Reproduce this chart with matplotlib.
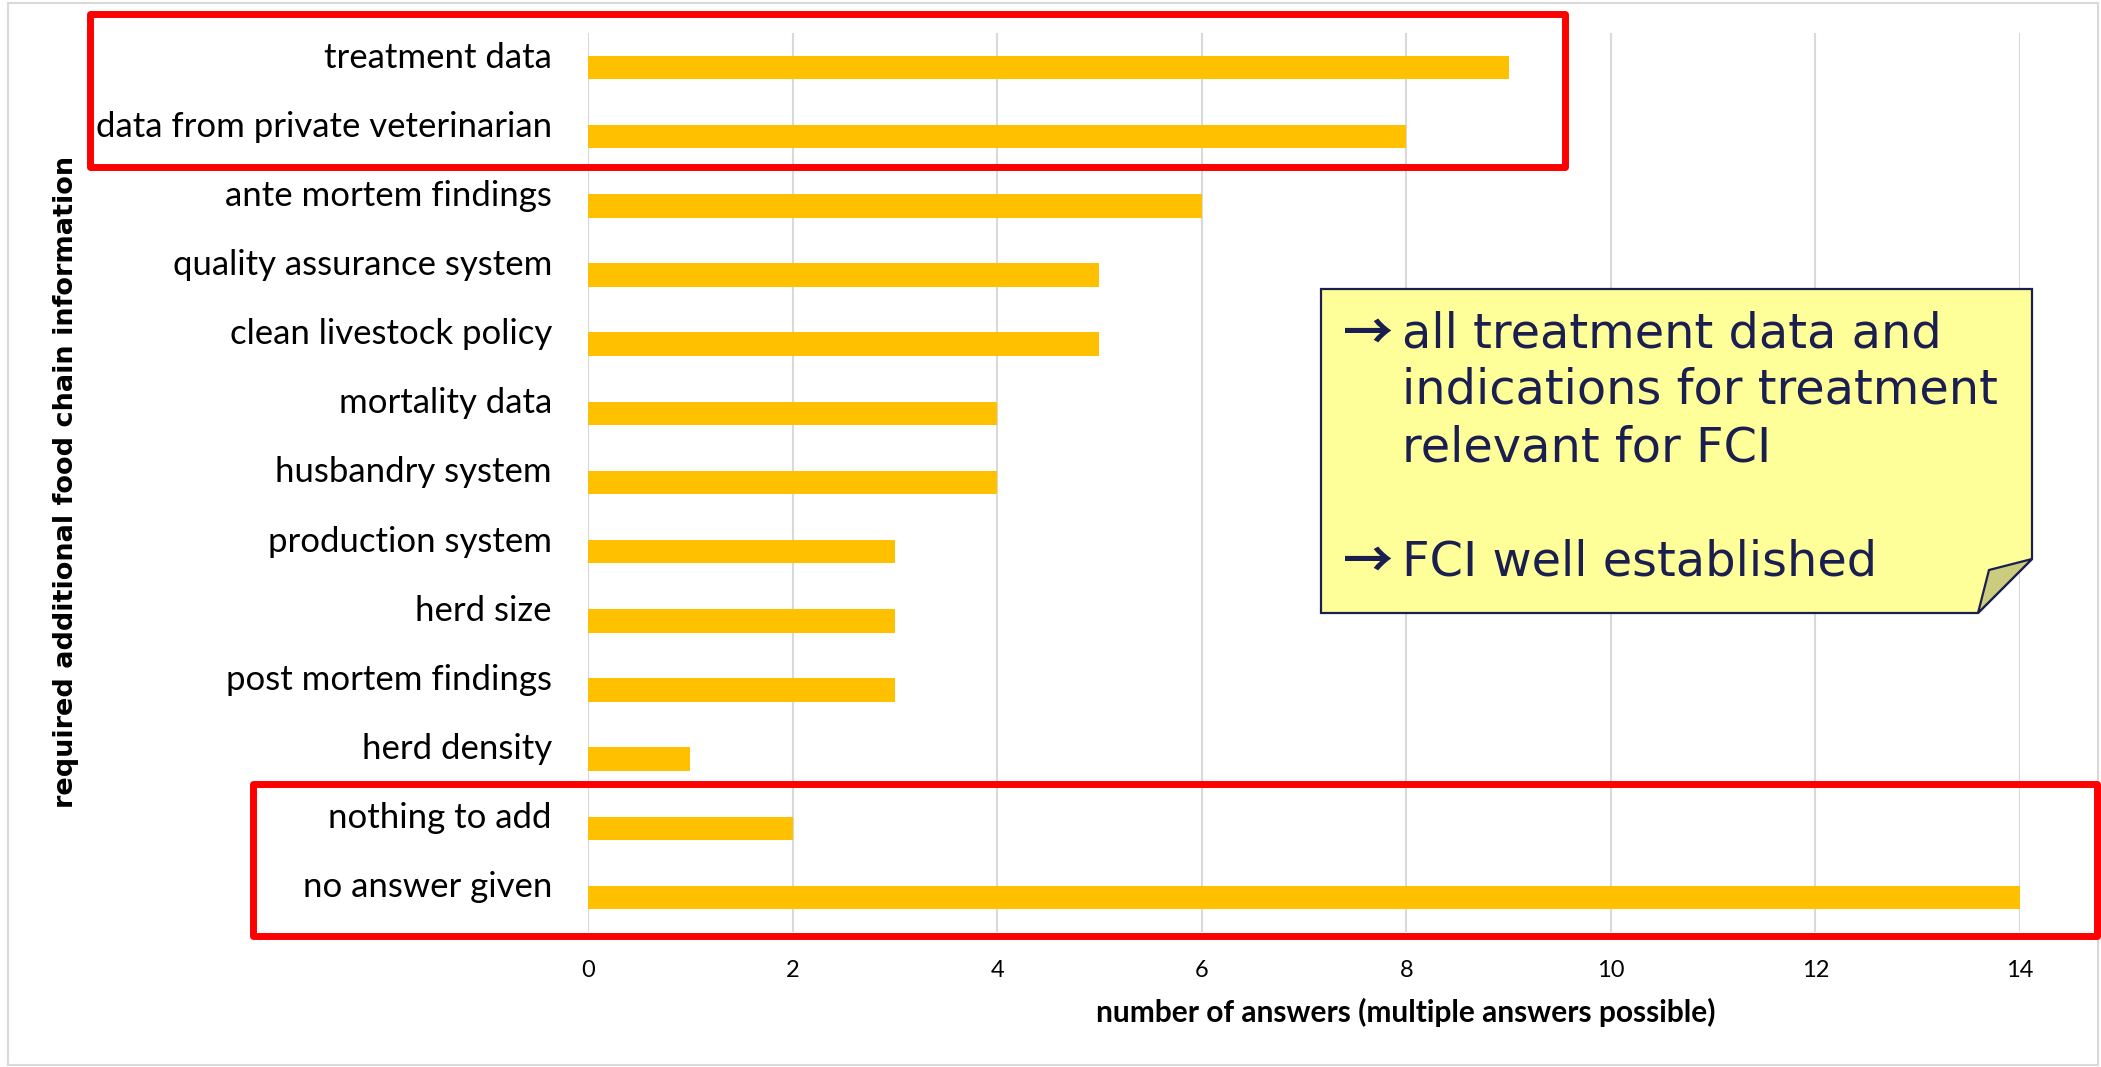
import matplotlib
matplotlib.use("Agg")
import matplotlib.pyplot as plt
from matplotlib.patches import Rectangle, Polygon
import numpy as np

categories = [
    "treatment data",
    "data from private veterinarian",
    "ante mortem findings",
    "quality assurance system",
    "clean livestock policy",
    "mortality data",
    "husbandry system",
    "production system",
    "herd size",
    "post mortem findings",
    "herd density",
    "nothing to add",
    "no answer given",
]
values = [9, 8, 6, 5, 5, 4, 4, 3, 3, 3, 1, 2, 14]
xticks = [0, 2, 4, 6, 8, 10, 12, 14]

note_lines = [
    ("\u2192", "all treatment data and"),
    ("", "indications for treatment"),
    ("", "relevant for FCI"),
    ("", ""),
    ("\u2192", "FCI well established"),
]

W, H = 2101, 1067
fig = plt.figure(figsize=(W / 100, H / 100), dpi=100)

def fx(px):
    return px / W

def fy(py):
    return 1 - py / H

# outer chart border
fig.patches.append(Rectangle((fx(8), fy(1065)), fx(2098) - fx(8), fy(3) - fy(1065),
                             transform=fig.transFigure, fill=False,
                             edgecolor="#D9D9D9", linewidth=1.5, zorder=0))

ax = fig.add_axes([fx(588), fy(932), fx(2020) - fx(588), fy(33) - fy(932)])
y = np.arange(len(categories))
ax.barh(y, values, height=0.34, color="#FFC000", zorder=3)
ax.set_ylim(len(categories) - 0.5, -0.5)
ax.set_xlim(0, 14)
ax.set_xticks(xticks)
ax.set_xticklabels([str(t) for t in xticks], fontsize=17, family="Lato")
ax.set_yticks(y)
ax.set_yticklabels(categories, fontsize=25, family="Lato", va="baseline")
ax.tick_params(axis="y", length=0, pad=26)
ax.tick_params(axis="x", length=0, pad=20)
ax.grid(axis="x", color="#D9D9D9", linewidth=1.5, zorder=0)
for s in ax.spines.values():
    s.set_visible(False)

fig.text(fx(1406), fy(1022), "number of answers (multiple answers possible)",
         ha="center", va="baseline", fontsize=21.5, fontweight="bold", family="Lato")
fig.text(fx(66), fy(482), "required additional food chain information",
         ha="center", va="center", rotation=90, fontsize=19.5, fontweight="bold",
         family="DejaVu Sans")

# red highlight boxes
for (l, t, r, b) in [(90, 14.5, 1564.5, 166.5), (253, 784, 2097, 936)]:
    fig.patches.append(Rectangle((fx(l), fy(b)), fx(r) - fx(l), fy(t) - fy(b),
                                 transform=fig.transFigure, fill=False,
                                 edgecolor="#FF0000", linewidth=5, joinstyle="round",
                                 zorder=10))

# sticky note
navy = "#1B1F50"
note = [(1321, 289), (2032, 289), (2032, 559), (1978, 613), (1321, 613)]
fig.patches.append(Polygon([(fx(a), fy(b)) for a, b in note], closed=True,
                           transform=fig.transFigure, facecolor="#FFFF99",
                           edgecolor=navy, linewidth=1.6, zorder=11))
flap = [(1989, 570), (2032, 559), (1978, 613)]
fig.patches.append(Polygon([(fx(a), fy(b)) for a, b in flap], closed=True,
                           transform=fig.transFigure, facecolor="#CCCC7F",
                           edgecolor=navy, linewidth=1.6, zorder=12))
baselines = [347, 404, 462, 519, 575]
for (arrow, txt), bl in zip(note_lines, baselines):
    if arrow:
        fig.text(fx(1343), fy(bl - 13), arrow, ha="left", va="center", fontsize=36,
                 color=navy, family=["Noto Sans CJK JP", "DejaVu Sans"],
                 fontweight="bold", zorder=13)
    if txt:
        fig.text(fx(1402), fy(bl), txt, ha="left", va="baseline", fontsize=34.5,
                 color=navy, family="DejaVu Sans", zorder=13)

fig.savefig("out.png", dpi=100, facecolor="white")
